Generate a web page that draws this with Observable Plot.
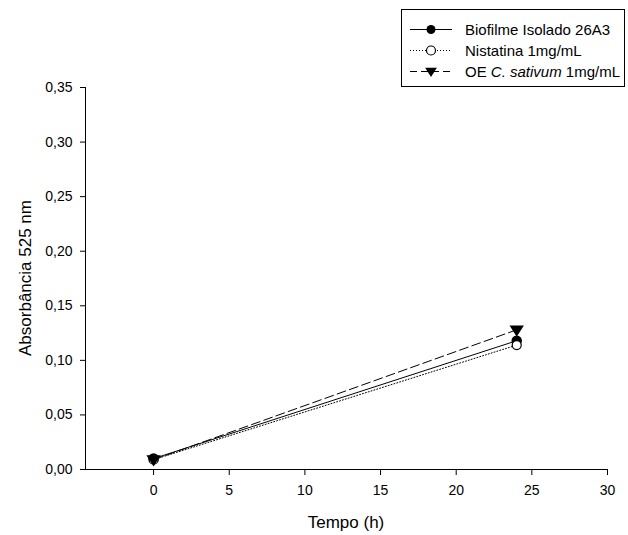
<!DOCTYPE html>
<html>
<head>
<meta charset="utf-8">
<script src="https://cdn.jsdelivr.net/npm/d3@7"></script>
<script src="https://cdn.jsdelivr.net/npm/@observablehq/plot@0.6"></script>
<style>
  html, body { margin: 0; padding: 0; background: #fff; }
  #chart { position: relative; width: 628px; height: 535px; }
  svg { font-family: "Liberation Sans", Arial, sans-serif; }
</style>
</head>
<body>
<div id="chart"></div>
<script>
// ---- data ----
const times = [0, 24];
const seriesNames = ["Biofilme Isolado 26A3", "Nistatina 1mg/mL", "OE C. sativum 1mg/mL"];
const biofilme = [0.010, 0.118];
const nistatina = [0.009, 0.114];
const oeSativum = [0.009, 0.128];
const xTicks = [0, 5, 10, 15, 20, 25, 30];
const yTicks = [0, 0.05, 0.10, 0.15, 0.20, 0.25, 0.30, 0.35];

const seriesValues = [biofilme, nistatina, oeSativum];
const rows = [];
seriesNames.forEach((s, i) => times.forEach((t, j) => rows.push({series: s, t, v: seriesValues[i][j]})));
const bySeries = name => rows.filter(d => d.series === name);

const triangleDown = {
  draw(ctx, size) {
    const s = Math.sqrt(size) * 0.62;
    ctx.moveTo(-s, -s * 0.62);
    ctx.lineTo(s, -s * 0.62);
    ctx.lineTo(0, s * 0.95);
    ctx.closePath();
  }
};

const fmt = d => d3.format(".2f")(d).replace(".", ",");

const plot = Plot.plot({
  width: 628,
  height: 535,
  marginLeft: 85,
  marginRight: 21,
  marginTop: 87,
  marginBottom: 66,
  style: {fontFamily: '"Liberation Sans", Arial, sans-serif', fontSize: "14px", color: "#000", background: "#fff"},
  x: {domain: [-4.5, 30], label: null},
  y: {domain: [0, 0.35], label: null},
  marks: [
    Plot.axisX({ticks: xTicks, tickSize: 6, tickPadding: 10, fontSize: 14, stroke: "#000", label: null}),
    Plot.axisY({ticks: yTicks, tickSize: 5, tickPadding: 8, tickFormat: fmt, fontSize: 14, stroke: "#000", label: null}),
    Plot.ruleY([0], {stroke: "#000", strokeWidth: 1}),
    Plot.ruleX([-4.5], {stroke: "#000", strokeWidth: 1}),
    Plot.line(bySeries(seriesNames[0]), {x: "t", y: "v", stroke: "#000", strokeWidth: 1}),
    Plot.line(bySeries(seriesNames[1]), {x: "t", y: "v", stroke: "#000", strokeWidth: 1, strokeDasharray: "1,2"}),
    Plot.line(bySeries(seriesNames[2]), {x: "t", y: "v", stroke: "#000", strokeWidth: 1, strokeDasharray: "9,4"}),
    Plot.dot(bySeries(seriesNames[0]), {x: "t", y: "v", r: 4.5, fill: "#000", stroke: "#000"}),
    Plot.dot(bySeries(seriesNames[1]), {x: "t", y: "v", r: 4.5, fill: "#fff", stroke: "#000", strokeWidth: 1.2}),
    Plot.dot(bySeries(seriesNames[2]), {x: "t", y: "v", r: 5.3, symbol: triangleDown, fill: "#000", stroke: "#000"})
  ]
});

const svg = d3.select(plot);
// axis titles
svg.append("text")
  .attr("x", (85 + 607) / 2).attr("y", 528)
  .attr("text-anchor", "middle").attr("font-size", 17).attr("fill", "#000")
  .text("Tempo (h)");
svg.append("text")
  .attr("transform", `translate(31,${(87 + 469) / 2}) rotate(-90)`)
  .attr("text-anchor", "middle").attr("font-size", 17).attr("fill", "#000")
  .text("Absorbância 525 nm");

// legend
const lg = svg.append("g").attr("text-anchor", "start");
lg.append("rect").attr("x", 401.5).attr("y", 9.5).attr("width", 223).attr("height", 77)
  .attr("fill", "#fff").attr("stroke", "#000").attr("stroke-width", 1);
const legendRows = [
  {dash: null, sym: "circleF"},
  {dash: "1,2", sym: "circleO"},
  {dash: "7,4", sym: "tri"}
];
legendRows.forEach((r, i) => {
  const y = 29.5 + i * 21;
  lg.append("line").attr("x1", 410).attr("x2", 452).attr("y1", y).attr("y2", y)
    .attr("stroke", "#000").attr("stroke-width", 1).attr("stroke-dasharray", r.dash);
  if (r.sym === "circleF") lg.append("circle").attr("cx", 431).attr("cy", y).attr("r", 4.5).attr("fill", "#000");
  if (r.sym === "circleO") lg.append("circle").attr("cx", 431).attr("cy", y).attr("r", 4.5).attr("fill", "#fff").attr("stroke", "#000").attr("stroke-width", 1.2);
  if (r.sym === "tri") lg.append("path").attr("transform", `translate(431,${y})`).attr("d", d3.symbol(triangleDown, 90)()).attr("fill", "#000");
  const t = lg.append("text").attr("x", 465).attr("y", y).attr("dy", "0.36em")
    .attr("text-anchor", "start").attr("font-size", 15).attr("fill", "#000");
  if (i === 2) {
    t.append("tspan").text("OE ");
    t.append("tspan").attr("font-style", "italic").text("C. sativum");
    t.append("tspan").text(" 1mg/mL");
  } else {
    t.text(seriesNames[i]);
  }
});

document.getElementById("chart").appendChild(plot);
</script>
</body>
</html>
